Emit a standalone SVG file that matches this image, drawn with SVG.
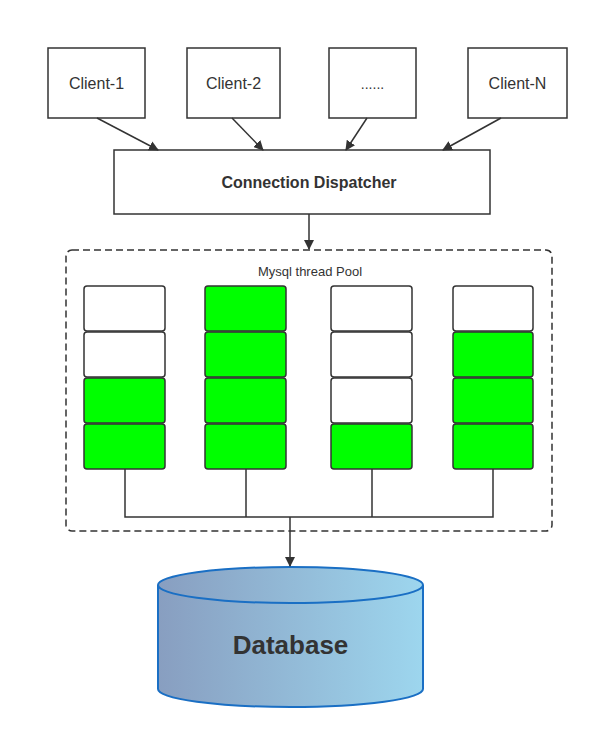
<svg xmlns="http://www.w3.org/2000/svg" width="600" height="739" viewBox="0 0 600 739">
<style>
.box{fill:#fff;stroke:#333;stroke-width:1.5}
.t{font-family:"Liberation Sans",Arial,sans-serif;fill:#333;text-anchor:middle}
.w{fill:#fff;stroke:#333;stroke-width:1.5}
.g{fill:#00ff00;stroke:#333;stroke-width:1.5}
.c{fill:none;stroke:#333;stroke-width:1.5}
</style>
<defs>
<marker id="ah" markerWidth="10" markerHeight="10" refX="9" refY="5" orient="auto" markerUnits="userSpaceOnUse"><path d="M0,0 L10,5 L0,10 z" fill="#333"/></marker>
<linearGradient id="db" x1="0" x2="1" y1="0" y2="0"><stop offset="0" stop-color="#889ec0"/><stop offset="1" stop-color="#9dd6ee"/></linearGradient>
</defs>
<rect width="600" height="739" fill="#fff"/>
<g id="client1"><rect class="box" x="48" y="48" width="97" height="70"/><text class="t" x="96.5" y="89" font-size="16">Client-1</text></g>
<g id="client2"><rect class="box" x="187" y="48" width="93" height="70"/><text class="t" x="233.5" y="89" font-size="16">Client-2</text></g>
<g id="clientdots"><rect class="box" x="329" y="48" width="87" height="70"/><text class="t" x="372.5" y="89" font-size="14">......</text></g>
<g id="clientN"><rect class="box" x="468" y="48" width="99" height="70"/><text class="t" x="517.5" y="89" font-size="16">Client-N</text></g>
<g id="dispatcher"><rect class="box" x="114" y="150" width="376" height="64"/><text class="t" x="309" y="188" font-size="16" font-weight="bold">Connection Dispatcher</text></g>
<g id="pool">
<rect x="66" y="250" width="486" height="281" rx="6" fill="none" stroke="#333" stroke-width="1.5" stroke-dasharray="7,4"/>
<text class="t" x="310" y="276" font-size="13">Mysql thread Pool</text>
<rect class="w" x="84" y="286" width="81" height="45" rx="3"/><rect class="w" x="84" y="332" width="81" height="45" rx="3"/><rect class="g" x="84" y="378" width="81" height="45" rx="3"/><rect class="g" x="84" y="424" width="81" height="45" rx="3"/>
<rect class="g" x="205" y="286" width="81" height="45" rx="3"/><rect class="g" x="205" y="332" width="81" height="45" rx="3"/><rect class="g" x="205" y="378" width="81" height="45" rx="3"/><rect class="g" x="205" y="424" width="81" height="45" rx="3"/>
<rect class="w" x="331" y="286" width="81" height="45" rx="3"/><rect class="w" x="331" y="332" width="81" height="45" rx="3"/><rect class="w" x="331" y="378" width="81" height="45" rx="3"/><rect class="g" x="331" y="424" width="81" height="45" rx="3"/>
<rect class="w" x="453" y="286" width="80" height="45" rx="3"/><rect class="g" x="453" y="332" width="80" height="45" rx="3"/><rect class="g" x="453" y="378" width="80" height="45" rx="3"/><rect class="g" x="453" y="424" width="80" height="45" rx="3"/>
</g>
<g id="database">
<path d="M158,585 L158,689 A132.5,18 0 0 0 423,689 L423,585" fill="url(#db)" stroke="#1a6fc4" stroke-width="2"/>
<ellipse cx="290.5" cy="585" rx="132.5" ry="18" fill="url(#db)" stroke="#1a6fc4" stroke-width="2"/>
<text class="t" x="290.5" y="654" font-size="26" font-weight="bold">Database</text>
</g>
<g id="connectors">
<line class="c" x1="97" y1="118" x2="158" y2="150" marker-end="url(#ah)"/>
<line class="c" x1="232" y1="118" x2="263" y2="150" marker-end="url(#ah)"/>
<line class="c" x1="367" y1="118" x2="346" y2="150" marker-end="url(#ah)"/>
<line class="c" x1="501" y1="118" x2="443" y2="150" marker-end="url(#ah)"/>
<line class="c" x1="309" y1="214" x2="309" y2="249" marker-end="url(#ah)"/>
<path class="c" d="M125,469 V517 H493 V469 M246,469 V517 M372,469 V517"/>
<line class="c" x1="290" y1="517" x2="290" y2="566" stroke-width="2" marker-end="url(#ah)"/>
</g>
</svg>
